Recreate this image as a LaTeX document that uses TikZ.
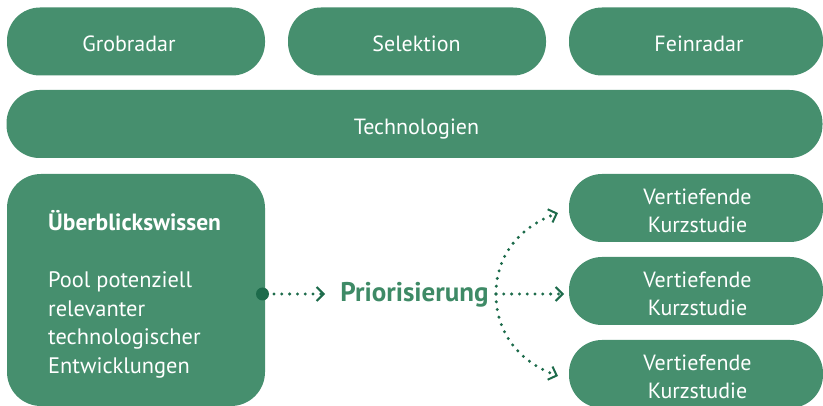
\documentclass[tikz,border=0pt]{standalone}
\usepackage{fontspec}
\setmainfont{PT Sans}
\usetikzlibrary{arrows.meta}
\definecolor{boxgreen}{HTML}{468F6E}
\definecolor{darkgreen}{HTML}{1D6B4B}
\definecolor{txtgreen}{HTML}{3E8A66}
\tikzset{
  pill/.style={fill=boxgreen, draw=none, rounded corners=33pt, inner sep=0pt},
  pilltext/.style={text=white, font=\fontsize{22}{27.7}\selectfont, align=center, inner sep=0pt},
  bigbox/.style={fill=boxgreen, draw=none, rounded corners=34pt, inner sep=0pt},
  dotline/.style={darkgreen, line width=3.3pt, line cap=round, dash pattern=on 0pt off 7.8pt,
    -{Straight Barb[length=7pt,width=14pt,line width=2pt]}}
}
\begin{document}
\begin{tikzpicture}[x=1pt,y=-1pt]
\useasboundingbox (0,0) rectangle (823,406);
\begin{scope}
\clip (0,0) rectangle (823,406);
\node[pill, minimum width=258pt, minimum height=68pt] (grob) at (136,41.5) {};
\node[pill, minimum width=258pt, minimum height=68pt] (sel) at (417,41.5) {};
\node[pill, minimum width=254pt, minimum height=68pt] (fein) at (696,41.5) {};
\node[pill, minimum width=816pt, minimum height=68pt] (tech) at (414.5,124) {};
\node[bigbox, minimum width=258pt, minimum height=232pt] (pool) at (136,290) {};
\node[pill, minimum width=254pt, minimum height=68pt] (k1) at (696,208) {};
\node[pill, minimum width=254pt, minimum height=68pt] (k2) at (696,291) {};
\node[pill, minimum width=254pt, minimum height=68pt] (k3) at (696,374) {};
\end{scope}
\node[pilltext, anchor=base] (grobt) at (129,51.7) {Grobradar};
\node[pilltext, anchor=base] (selt) at (416.5,51.7) {Selektion};
\node[pilltext, anchor=base] (feint) at (699,51.7) {Feinradar};
\node[pilltext, anchor=base] (techt) at (416.5,134.5) {Technologien};
\node[pilltext, anchor=base] (k1t) at (697.5,232.7) {Vertiefende\\Kurzstudie};
\node[pilltext, anchor=base] (k2t) at (697.5,315.7) {Vertiefende\\Kurzstudie};
\node[pilltext, anchor=base] (k3t) at (697.5,398.7) {Vertiefende\\Kurzstudie};
\node[anchor=base west, text=white, align=left, inner sep=0pt,
      font=\fontsize{22.4}{28.7}\selectfont] (pooltxt) at (48,373.5)
      {{\fontsize{23.5}{28.7}\selectfont\bfseries Überblickswissen}\\[28.3pt]Pool potenziell\\relevanter\\technologischer\\Entwicklungen};
\node[text=txtgreen, font=\bfseries\fontsize{27}{28}\selectfont, inner sep=0pt, anchor=base] (prio) at (414.5,302) {Priorisierung};
\fill[darkgreen] (262.5,294) circle (6.5pt);
\coordinate (dot) at (262.5,294);
\coordinate (d1) at (274,294);
\coordinate (fan) at (496,294);
\coordinate (e1) at (558,213);
\coordinate (e2) at (564,294);
\coordinate (e3) at (558,376);
\coordinate (ea) at (325,294);
\draw[dotline] (d1) -- (ea);
\draw[dotline] (fan) to[out=90,in=200] (e1);
\draw[dotline] (fan) -- (e2);
\draw[dotline] (fan) to[out=-90,in=160] (e3);
\end{tikzpicture}
\end{document}
